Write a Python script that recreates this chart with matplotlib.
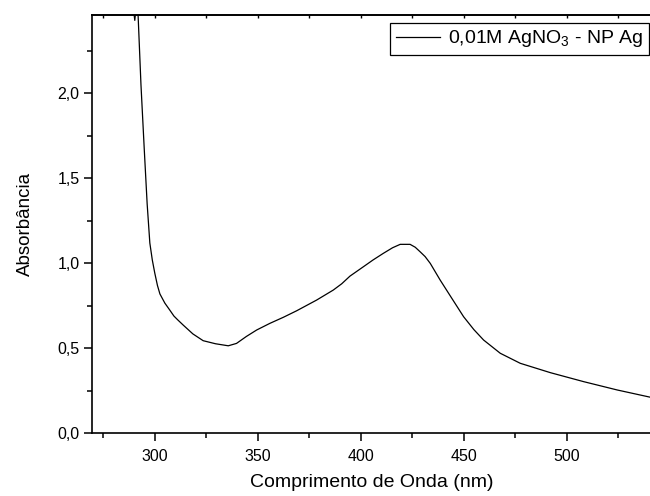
import numpy as np
import matplotlib
matplotlib.use('Agg')
import matplotlib.pyplot as plt
from matplotlib.ticker import MultipleLocator, FuncFormatter

plt.rcParams['font.family'] = ['Liberation Sans', 'DejaVu Sans']
plt.rcParams['mathtext.fontset'] = 'custom'
plt.rcParams['mathtext.rm'] = 'Liberation Sans'
plt.rcParams['mathtext.it'] = 'Liberation Sans'

# wavelength (nm) and absorbance
wavelength = [289.0, 289.6, 290.3, 291.0, 291.9, 293.3, 294.9, 296.3, 297.6, 298.8,
              300.0, 301.3, 302.5, 304.9, 307.3, 309.3, 311.2, 313.8, 318.5, 323.5,
              329.5, 335.7, 339.7, 344.5, 349.5, 355.9, 362.5, 368.9, 378.6, 386.7,
              390.8, 394.8, 401.3, 406.0, 411.0, 415.5, 419.2, 424.0, 426.5, 428.9,
              431.3, 433.8, 438.6, 443.5, 450.0, 455.0, 459.7, 467.8, 477.5, 492.1,
              508.3, 524.6, 540.8]
absorbance = [2.60, 2.50, 2.43, 2.52, 2.46, 2.05, 1.67, 1.35, 1.12, 1.02,
              0.943, 0.87, 0.82, 0.766, 0.725, 0.69, 0.667, 0.637, 0.585, 0.545,
              0.527, 0.515, 0.529, 0.57, 0.608, 0.647, 0.683, 0.721, 0.784, 0.843,
              0.88, 0.925, 0.980, 1.02, 1.059, 1.092, 1.112, 1.112, 1.095, 1.068,
              1.04, 1.000, 0.902, 0.809, 0.686, 0.61, 0.549, 0.471, 0.412, 0.357,
              0.304, 0.255, 0.212]

fig = plt.figure(figsize=(6.5, 4.96), dpi=100)
ax = fig.add_axes([0.1415, 0.1264, 0.8600, 0.8428])

ax.plot(wavelength, absorbance, color='black', lw=0.9, label='0,01M AgNO$_3$ - NP Ag')

ax.set_xlim(269.5, 541)
ax.set_ylim(0, 2.46)

for s in ['left', 'bottom', 'top']:
    ax.spines[s].set_linewidth(1.2)
ax.spines['right'].set_visible(False)

ax.xaxis.set_major_locator(MultipleLocator(50))
ax.xaxis.set_minor_locator(MultipleLocator(25))
ax.yaxis.set_major_locator(MultipleLocator(0.5))
ax.yaxis.set_minor_locator(MultipleLocator(0.25))
ax.yaxis.set_major_formatter(FuncFormatter(lambda v, p: f'{v:.1f}'.replace('.', ',')))

ax.tick_params(which='major', direction='out', length=5.5, width=1.1, labelsize=11.5)
ax.tick_params(axis='x', which='major', pad=6)
ax.tick_params(which='minor', direction='out', length=3.5, width=1.1)

top = ax.secondary_xaxis('top')
top.xaxis.set_major_locator(MultipleLocator(25))
top.tick_params(direction='in', length=2.5, width=1.0, labeltop=False)
top.spines['top'].set_linewidth(1.2)

ax.set_xlabel('Comprimento de Onda (nm)', fontsize=14, labelpad=7)
ax.set_ylabel('Absorbância', fontsize=13.5, labelpad=17)

leg = ax.legend(loc='upper right', bbox_to_anchor=(0.9964, 0.9816), borderaxespad=0,
                fontsize=14, handlelength=2.3, handletextpad=0.4, borderpad=0.28,
                fancybox=False, framealpha=1, edgecolor='black')
leg.get_frame().set_linewidth(0.9)

fig.savefig('out.png', dpi=100)
